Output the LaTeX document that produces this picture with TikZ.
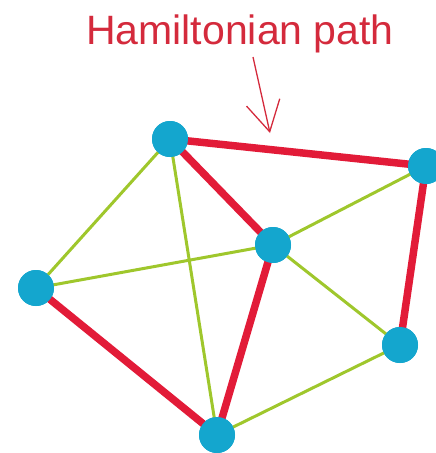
\documentclass[tikz,border=0pt]{standalone}
\usepackage{fontspec}
\setmainfont{Liberation Sans}
\usetikzlibrary{arrows.meta}
\definecolor{vcyan}{HTML}{14A6CE}
\definecolor{pathred}{HTML}{E21B38}
\definecolor{edgegreen}{HTML}{9FC72C}
\definecolor{inkred}{HTML}{D42A3C}
\tikzset{
    vertex/.style={circle,fill=vcyan,minimum size=36pt,inner sep=0pt},
    plain/.style={draw=edgegreen,line width=3pt},
    hampath/.style={draw=pathred,line width=7.5pt},
    pointer/.style={draw=inkred,line width=1.3pt,-{Straight Barb[length=30pt,width=34pt,line width=1.3pt]}}
}
\begin{document}
\begin{tikzpicture}[x=1pt,y=-1pt]
\useasboundingbox (0,0) rectangle (436,453);
% vertices
\node[vertex] (a) at (170,139) {};
\node[vertex] (b) at (426,166) {};
\node[vertex] (c) at (273,245) {};
\node[vertex] (d) at (36,288) {};
\node[vertex] (e) at (400,345) {};
\node[vertex] (f) at (217,435) {};
% other edges
\foreach \u/\v in {a/d,a/f,d/c,c/b,c/e,e/f}
    \draw[plain] (\u.center) -- (\v.center);
% the path
\draw[hampath] (d.center) -- (f.center) -- (c.center) -- (a.center) -- (b.center) -- (e.center);
\foreach \v in {a,b,c,d,e,f}
    \node[vertex] at (\v) {};
% label
\node[anchor=base,text=inkred,font=\fontsize{41}{45}\selectfont] (title) at (240,44) {Hamiltonian path};
\coordinate (tail) at (253,57);
\coordinate (tip) at (270,133);
\draw[pointer] (tail) -- (tip);
\end{tikzpicture}
\end{document}
